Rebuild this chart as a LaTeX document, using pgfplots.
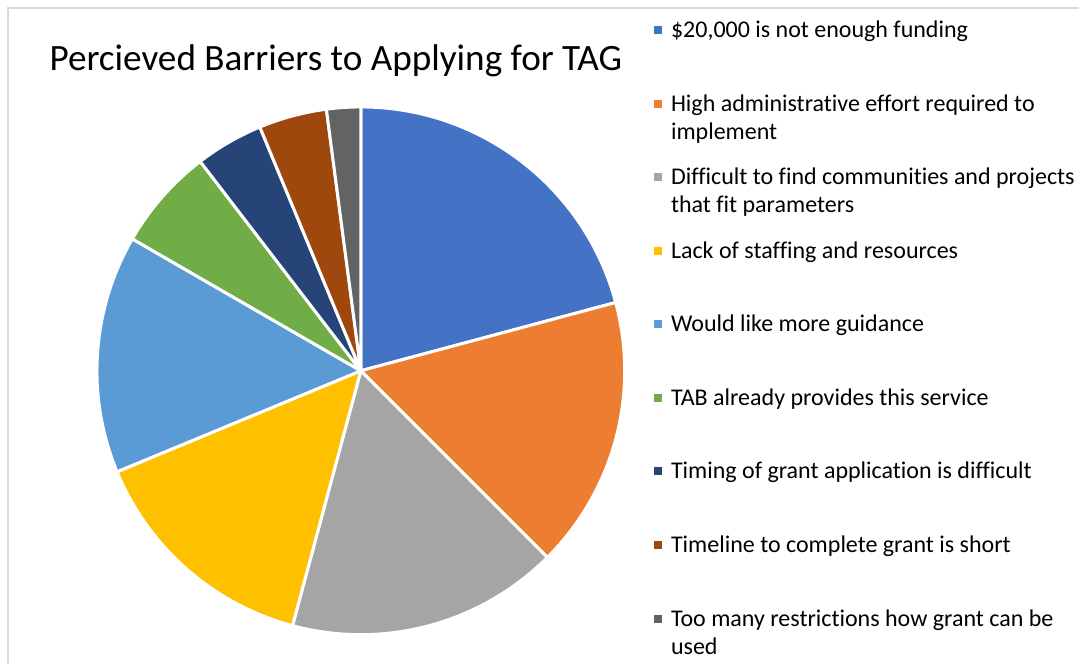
\documentclass[border=0pt]{standalone}
\usepackage{pgfplots}
\usepackage{pgfplotstable}
\pgfplotsset{compat=1.18}
\usepackage{fontspec}
\setmainfont{Carlito}[Ligatures=NoCommon]

\definecolor{s1}{HTML}{4472C4}
\definecolor{s2}{HTML}{ED7D31}
\definecolor{s3}{HTML}{A5A5A5}
\definecolor{s4}{HTML}{FFC000}
\definecolor{s5}{HTML}{5B9BD5}
\definecolor{s6}{HTML}{70AD47}
\definecolor{s7}{HTML}{264478}
\definecolor{s8}{HTML}{9E480E}
\definecolor{s9}{HTML}{636363}
\definecolor{framegray}{HTML}{D9D9D9}

% responses per barrier
\pgfplotstableread{
idx value col
1 10 s1
2 8 s2
3 8 s3
4 7 s4
5 7 s5
6 3 s6
7 2 s7
8 2 s8
9 1 s9
}\slices

\begin{document}
\begin{tikzpicture}
\begin{axis}[
    x=0.5pt, y=0.5pt,
    xmin=0, xmax=1080, ymin=0, ymax=664,
    hide axis, scale only axis, clip=false,
  ]
  \path (axis cs:0,0) rectangle (axis cs:1080,664);
  % chart frame
  \draw[framegray, line width=0.6pt] (axis cs:8,0) -- (axis cs:8,656) -- (axis cs:1080,656);

  % pie (clockwise from 12 o'clock)
  \pgfplotsextra{
    \xdef\pietotal{0}
    \foreach \i in {0,...,8}{
      \pgfplotstablegetelem{\i}{value}\of\slices
      \pgfmathsetmacro{\tmpsum}{\pietotal+\pgfplotsretval}
      \xdef\pietotal{\tmpsum}
    }
    \xdef\startang{90}
    \foreach \i in {0,...,8}{
      \pgfplotstablegetelem{\i}{value}\of\slices
      \pgfmathsetmacro{\slval}{\pgfplotsretval}
      \pgfplotstablegetelem{\i}{col}\of\slices
      \edef\slcol{\pgfplotsretval}
      \pgfmathsetmacro{\endang}{\startang-360*\slval/\pietotal}
      \filldraw[fill=\slcol, draw=white, line width=1.5pt, line join=round]
        (axis cs:361,293) -- ++(\startang:132pt) arc[start angle=\startang, end angle=\endang, radius=132pt] -- cycle;
      \xdef\startang{\endang}
    }

    % legend
    \foreach \lgcol/\y in {s1/30, s2/104, s3/177, s4/251, s5/324, s6/398, s7/471, s8/545, s9/619}{
      \fill[fill=\lgcol] (axis cs:654,{664-\y-4}) rectangle (axis cs:662,{664-\y+4});
    }
    \foreach \lgtxt/\y in {
        {\$20,000 is not enough funding}/38,
        {High administrative effort required to}/112,
        {implement}/140,
        {Difficult to find communities and projects}/185,
        {that fit parameters}/213,
        {Lack of staffing and resources}/259,
        {Would like more guidance}/332,
        {TAB already provides this service}/406,
        {Timing of grant application is difficult}/479,
        {Timeline to complete grant is short}/553,
        {Too many restrictions how grant can be}/627,
        {used}/655}{
      \node[anchor=base west, inner sep=0, font=\fontsize{12}{14}\selectfont] at (axis cs:671,{664-\y}) {\lgtxt};
    }
  }

  % title
  \node[font=\fontsize{18.6}{22}\selectfont, inner sep=0] at (axis cs:336,603) {Percieved Barriers to Applying for TAG};
\end{axis}
\end{tikzpicture}
\end{document}
